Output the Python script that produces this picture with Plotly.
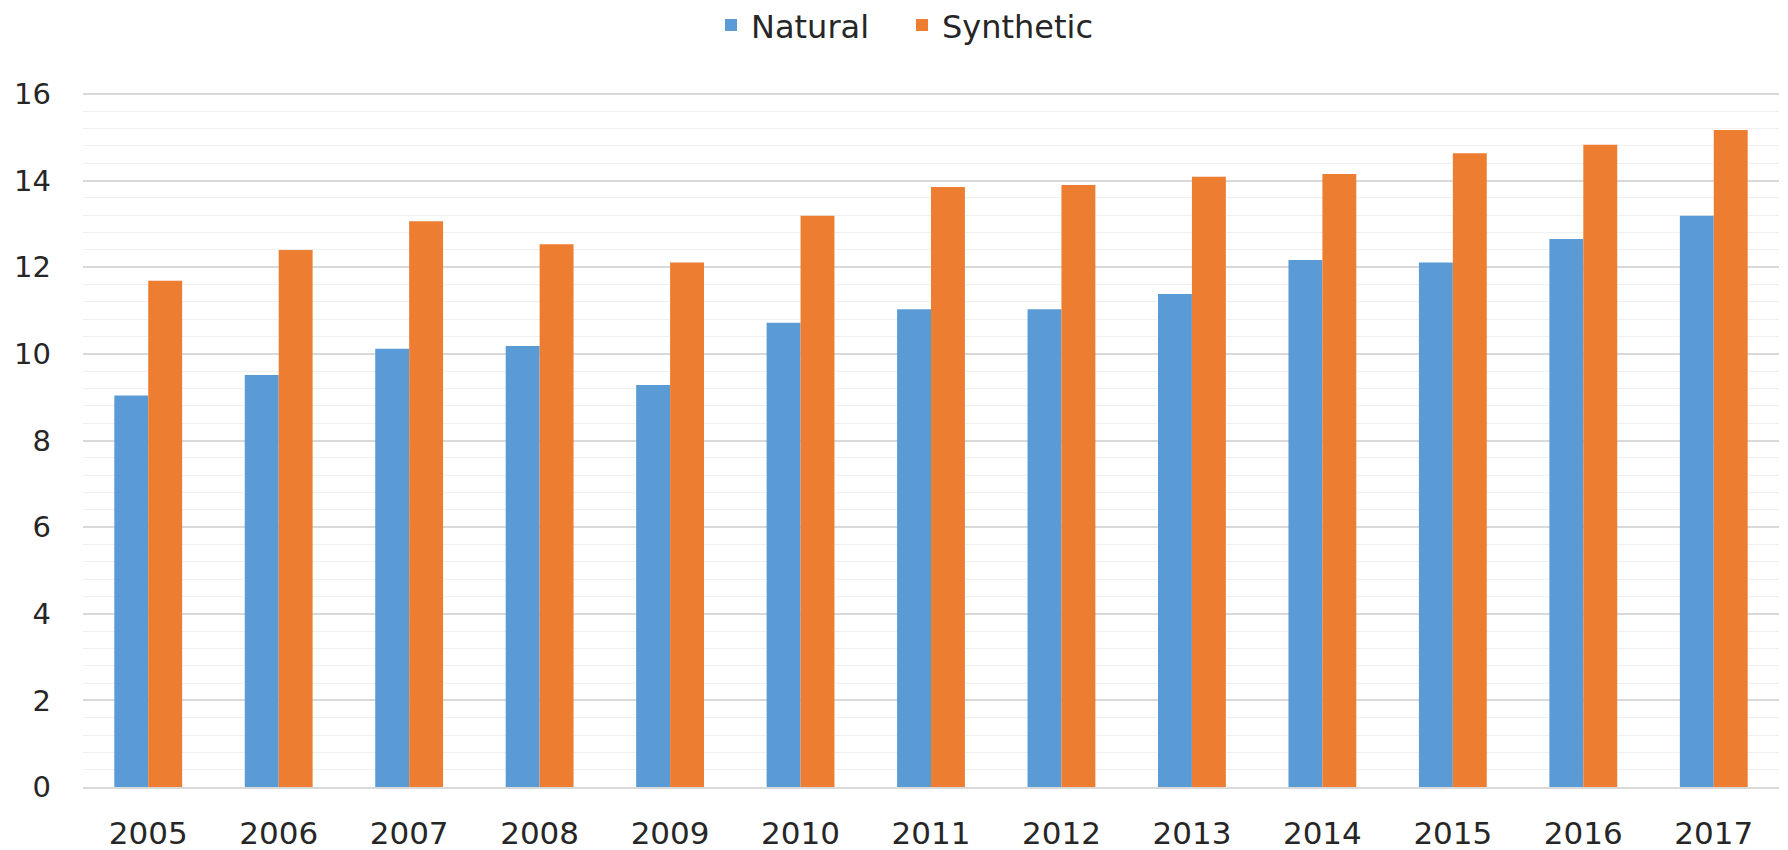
import plotly.graph_objects as go

years = ["2005", "2006", "2007", "2008", "2009", "2010", "2011", "2012", "2013", "2014", "2015", "2016", "2017"]
natural = [9.04, 9.51, 10.12, 10.18, 9.28, 10.72, 11.03, 11.03, 11.38, 12.17, 12.11, 12.65, 13.19]
synthetic = [11.69, 12.40, 13.06, 12.53, 12.11, 13.19, 13.85, 13.90, 14.09, 14.15, 14.63, 14.83, 15.17]
y_ticks = [0, 2, 4, 6, 8, 10, 12, 14, 16]

FONT = "DejaVu Sans"
TXT = "#262626"

fig = go.Figure()
fig.add_trace(go.Bar(name="Natural", x=years, y=natural, marker=dict(color="#5B9BD5", line=dict(width=0))))
fig.add_trace(go.Bar(name="Synthetic", x=years, y=synthetic, marker=dict(color="#ED7D31", line=dict(width=0))))

fig.update_layout(
    width=1788, height=850,
    margin=dict(l=75, r=17, t=84, b=71, autoexpand=False),
    paper_bgcolor="white", plot_bgcolor="white",
    barmode="group", bargap=0.48, bargroupgap=0,
    font=dict(family=FONT, color=TXT, size=30),
    showlegend=True,
    legend=dict(orientation="h", x=0.5, xanchor="center", xref="container",
                y=1.096, yanchor="middle", yref="paper",
                font=dict(size=32, family=FONT, color=TXT),
                itemwidth=30, entrywidth=146, tracegroupgap=0, bgcolor="rgba(0,0,0,0)"),
)
fig.update_xaxes(type="category", showgrid=False, showline=True, linecolor="#D9D9D9", linewidth=2,
                 ticks="", tickfont=dict(size=31, family=FONT, color=TXT), ticklabelstandoff=18,
                 zeroline=False, automargin=False)
fig.update_yaxes(range=[0, 16.046], tickvals=y_ticks, showgrid=True, gridcolor="#D9D9D9", gridwidth=2,
                 minor=dict(dtick=0.4, tick0=0, showgrid=True, gridcolor="#F0F0F0", gridwidth=1),
                 zeroline=False, showline=False, ticks="", automargin=False,
                 tickfont=dict(size=29, family=FONT, color=TXT), ticklabelstandoff=31)

fig.write_html("out.html")
